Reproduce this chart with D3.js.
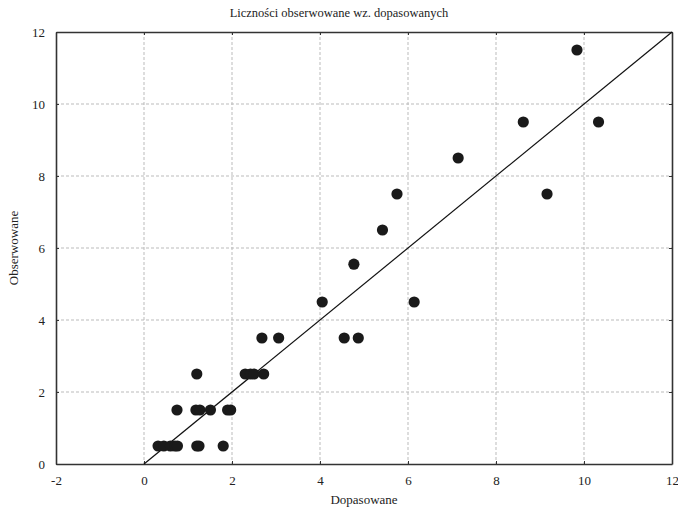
<!DOCTYPE html>
<html><head><meta charset="utf-8">
<script src="https://cdn.jsdelivr.net/npm/d3@7"></script>
<style>body{margin:0;background:#fff}svg{display:block}text{font-family:"Liberation Serif","Times New Roman",serif;fill:#222}</style>
</head><body><svg id="c" width="678" height="511"></svg>
<script>
const title = "Liczności obserwowane wz. dopasowanych";
const xLabel = "Dopasowane";
const yLabel = "Obserwowane";
const xTicks = [-2, 0, 2, 4, 6, 8, 10, 12];
const yTicks = [0, 2, 4, 6, 8, 10, 12];
const fitted = [0.32, 0.45, 0.6, 0.7, 0.76, 1.2, 1.25, 1.8,
  0.75, 1.18, 1.27, 1.51, 1.9, 1.97,
  1.2, 2.3, 2.42, 2.5, 2.72,
  2.68, 3.06,
  4.55, 4.87, 4.05, 6.14, 4.77, 5.42, 5.75, 9.16, 7.14, 8.62, 10.33, 9.84];
const observed = [0.5, 0.5, 0.5, 0.5, 0.5, 0.5, 0.5, 0.5,
  1.5, 1.5, 1.5, 1.5, 1.5, 1.5,
  2.5, 2.5, 2.5, 2.5, 2.5,
  3.5, 3.5,
  3.5, 3.5, 4.5, 4.5, 5.55, 6.5, 7.5, 7.5, 8.5, 9.5, 9.5, 11.5];
const refLine = [[0, 0], [12, 12]];

const svg = d3.select("#c");
const L = 56, R = 672, T = 32, B = 464;
const x = d3.scaleLinear().domain([-2, 12]).range([L, R]);
const y = d3.scaleLinear().domain([0, 12]).range([B, T]);

// grid
svg.append("g").selectAll("line").data(xTicks.slice(1, -1)).join("line")
  .attr("x1", d => x(d)).attr("x2", d => x(d)).attr("y1", T).attr("y2", B)
  .attr("stroke", "#bbb").attr("stroke-dasharray", "3,2").attr("stroke-width", 1);
svg.append("g").selectAll("line").data(yTicks.slice(1, -1)).join("line")
  .attr("y1", d => y(d)).attr("y2", d => y(d)).attr("x1", L).attr("x2", R)
  .attr("stroke", "#bbb").attr("stroke-dasharray", "3,2").attr("stroke-width", 1);

// axes
const fmt = d => String(d);
const gx = svg.append("g").attr("transform", `translate(0,${B})`)
  .call(d3.axisBottom(x).tickValues(xTicks).tickFormat(fmt).tickSizeInner(-3).tickSizeOuter(0).tickPadding(12));
const gy = svg.append("g").attr("transform", `translate(${L},0)`)
  .call(d3.axisLeft(y).tickValues(yTicks).tickFormat(fmt).tickSizeInner(-3).tickSizeOuter(0).tickPadding(11));
const gx2 = svg.append("g").attr("transform", `translate(0,${T})`)
  .call(d3.axisTop(x).tickValues(xTicks).tickFormat("").tickSizeInner(-3).tickSizeOuter(0));
const gy2 = svg.append("g").attr("transform", `translate(${R},0)`)
  .call(d3.axisRight(y).tickValues(yTicks).tickFormat("").tickSizeInner(-3).tickSizeOuter(0));
[gx, gy, gx2, gy2].forEach(g => {
  g.select(".domain").attr("stroke", "#333").attr("stroke-width", 1.6);
  g.selectAll(".tick line").attr("stroke", "#333");
  g.selectAll(".tick text").style("font-family", "'Liberation Serif',serif").style("font-size", "13px").attr("fill", "#222");
});

// reference line
svg.append("path").datum(refLine)
  .attr("d", d3.line().x(d => x(d[0])).y(d => y(d[1])))
  .attr("stroke", "#111").attr("stroke-width", 1.2).attr("fill", "none");

// points
svg.append("g").selectAll("circle").data(fitted.map((f, i) => [f, observed[i]])).join("circle")
  .attr("cx", d => x(d[0])).attr("cy", d => y(d[1])).attr("r", 5.6).attr("fill", "#1a1a1a");

// texts
svg.append("text").attr("x", 339).attr("y", 17).attr("text-anchor", "middle").style("font-size", "12.5px").text(title);
svg.append("text").attr("x", 364).attr("y", 504).attr("text-anchor", "middle").style("font-size", "13px").text(xLabel);
svg.append("text").attr("transform", `translate(18,${y(6)}) rotate(-90)`).attr("text-anchor", "middle").style("font-size", "13px").text(yLabel);
</script></body></html>
